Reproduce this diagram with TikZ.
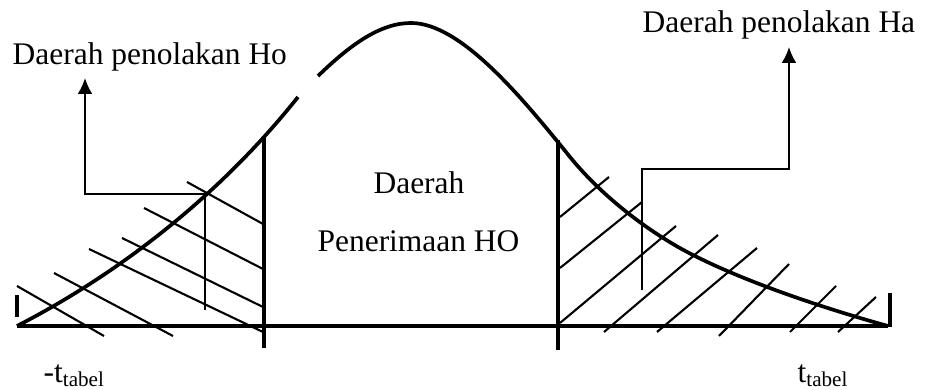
\documentclass[tikz,border=0pt]{standalone}
\usepackage{fontspec}
\setmainfont{Liberation Serif}
\usetikzlibrary{arrows.meta}

\begin{document}
\begin{tikzpicture}[
  axis/.style={line width=.9pt},
  bound/.style={line width=1pt},
  bell/.style={line width=1.05pt,line join=round},
  hatch/.style={line width=.6pt},
  pointer/.style={line width=.6pt,-{Latex[length=4.5pt,width=4.2pt]}},
  tagtext/.style={font=\fontsize{8.95}{11}\selectfont,inner sep=0pt},
  regiontext/.style={font=\fontsize{8.95}{11}\selectfont,inner sep=0pt},
  ticktext/.style={font=\fontsize{8.95}{11}\selectfont,inner sep=0pt},
  >=Latex]
  \useasboundingbox (0,0) rectangle (9.26,3.90);

  \coordinate (lo) at (0.17,0.64);
  \coordinate (hi) at (8.88,0.64);
  \coordinate (ltop) at (2.64,2.53);
  \coordinate (lbot) at (2.64,0.42);
  \coordinate (rtop) at (5.58,2.50);
  \coordinate (rbot) at (5.58,0.40);
  \coordinate (ltick) at (0.17,0.95);
  \coordinate (ltickb) at (0.17,0.73);
  \coordinate (rtick) at (8.90,0.97);
  \coordinate (rtickb) at (8.90,0.63);

  \draw[axis] (lo) -- (hi);
  \draw[axis] (ltickb) -- (ltick);
  \draw[axis] (rtickb) -- (rtick);
  \draw[bound] (lbot) -- (ltop);
  \draw[bound] (rbot) -- (rtop);

  \draw[bell] (lo) .. controls (1.2,1.17) and (2.2,1.95) .. (2.98,2.93);
  \draw[bell] (3.18,3.14) .. controls (3.50,3.45) and (3.80,3.67) .. (4.11,3.67)
    .. controls (4.60,3.67) and (5.20,2.95) .. (5.70,2.33)
    .. controls (6.05,1.90) and (6.55,1.54) .. (6.93,1.35)
    .. controls (7.50,1.06) and (8.30,0.80) .. (hi);

  \foreach \a/\b/\c/\d in {0.17/1.04/1.04/0.54, 0.54/1.17/1.73/0.54, 0.89/1.41/2.63/0.58,
      1.22/1.52/2.63/0.83, 1.44/1.82/2.63/1.21, 1.87/2.08/2.63/1.66}{
    \draw[hatch] (\a,\b) -- (\c,\d);
  }
  \foreach \a/\b/\c/\d in {5.60/1.73/6.09/2.13, 5.60/1.22/6.42/1.88, 5.60/0.67/6.76/1.64,
      6.04/0.58/7.18/1.55, 6.57/0.58/7.57/1.42, 7.19/0.54/7.89/1.26,
      7.90/0.58/8.36/1.04, 8.38/0.58/8.76/0.93}{
    \draw[hatch] (\a,\b) -- (\c,\d);
  }

  \node[tagtext,anchor=base west] (tagho) at (0.12,3.25) {Daerah penolakan Ho};
  \node[tagtext,anchor=base west] (tagha) at (6.42,3.57) {Daerah penolakan Ha};
  \node[regiontext,anchor=base] (accept1) at (4.19,1.96) {Daerah};
  \node[regiontext,anchor=base] (accept2) at (4.185,1.38) {Penerimaan HO};
  \node[ticktext,anchor=base west] (tleft) at (0.43,0.07)
    {-t{\fontsize{6}{7}\selectfont\raisebox{-1.1pt}{tabel}}};
  \node[ticktext,anchor=base west] (tright) at (7.97,0.07)
    {t{\fontsize{6}{7}\selectfont\raisebox{-1.1pt}{tabel}}};

  \coordinate (hofoot) at (2.05,0.80);
  \coordinate (hobend) at (2.05,1.96);
  \coordinate (hotip) at (0.85,3.12);
  \coordinate (hafoot) at (6.42,1.00);
  \coordinate (habend) at (6.42,2.21);
  \coordinate (hatip) at (7.89,3.43);
  \draw[pointer] (hofoot) -- (hobend) -| (hotip);
  \draw[pointer] (hafoot) -- (habend) -| (hatip);
\end{tikzpicture}
\end{document}
